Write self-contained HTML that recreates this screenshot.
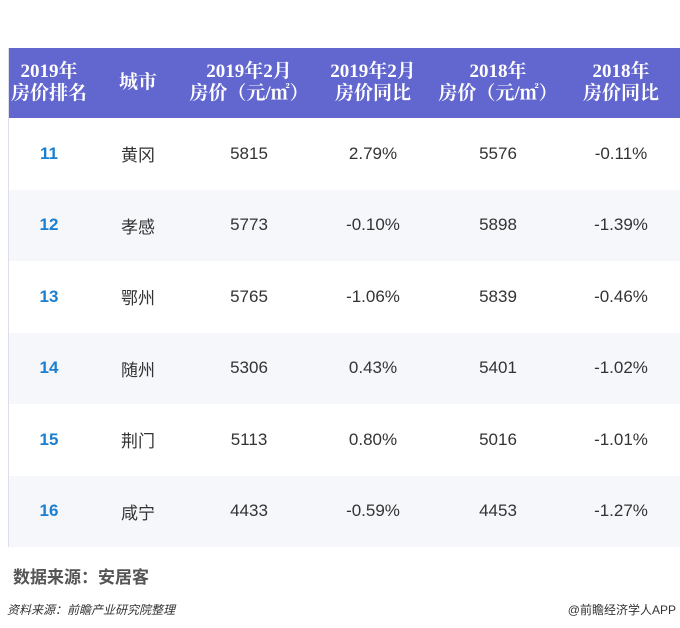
<!DOCTYPE html>
<html><head><meta charset="utf-8"><style>
body{margin:0;width:680px;height:628px;background:#fff;font-family:"Liberation Sans","Noto Sans CJK SC",sans-serif;position:relative;overflow:hidden}
.t{position:absolute;left:8px;top:48px;width:672px;border-left:1px solid #dde;}
.h{height:70px;background:#6266cf;color:#fff;font-family:"Liberation Serif","Noto Serif CJK SC",serif;font-weight:bold;font-size:19px;line-height:22px;position:relative}
.r{height:71.5px;position:relative;font-size:17px;color:#333}
.r:nth-child(odd){background:#f6f7fb}
.c{position:absolute;top:0;height:100%;display:flex;align-items:center;justify-content:center;text-align:center;transform:translateX(-50%);white-space:nowrap}
.n{color:#1a7fd0;font-weight:bold}
</style></head><body>
<div class="t">
<div class="h">
<div class="c" style="left:40px">2019年<br>房价排名</div>
<div class="c" style="left:129px">城市</div>
<div class="c" style="left:240px">2019年2月<br>房价（元/㎡）</div>
<div class="c" style="left:364px">2019年2月<br>房价同比</div>
<div class="c" style="left:489px">2018年<br>房价（元/㎡）</div>
<div class="c" style="left:612px">2018年<br>房价同比</div>
</div>
<div class="r"><div class="c n" style="left:40px">11</div><div class="c" style="left:129px">黄冈</div><div class="c" style="left:240px">5815</div><div class="c" style="left:364px">2.79%</div><div class="c" style="left:489px">5576</div><div class="c" style="left:612px">-0.11%</div></div>
<div class="r"><div class="c n" style="left:40px">12</div><div class="c" style="left:129px">孝感</div><div class="c" style="left:240px">5773</div><div class="c" style="left:364px">-0.10%</div><div class="c" style="left:489px">5898</div><div class="c" style="left:612px">-1.39%</div></div>
<div class="r"><div class="c n" style="left:40px">13</div><div class="c" style="left:129px">鄂州</div><div class="c" style="left:240px">5765</div><div class="c" style="left:364px">-1.06%</div><div class="c" style="left:489px">5839</div><div class="c" style="left:612px">-0.46%</div></div>
<div class="r"><div class="c n" style="left:40px">14</div><div class="c" style="left:129px">随州</div><div class="c" style="left:240px">5306</div><div class="c" style="left:364px">0.43%</div><div class="c" style="left:489px">5401</div><div class="c" style="left:612px">-1.02%</div></div>
<div class="r"><div class="c n" style="left:40px">15</div><div class="c" style="left:129px">荆门</div><div class="c" style="left:240px">5113</div><div class="c" style="left:364px">0.80%</div><div class="c" style="left:489px">5016</div><div class="c" style="left:612px">-1.01%</div></div>
<div class="r"><div class="c n" style="left:40px">16</div><div class="c" style="left:129px">咸宁</div><div class="c" style="left:240px">4433</div><div class="c" style="left:364px">-0.59%</div><div class="c" style="left:489px">4453</div><div class="c" style="left:612px">-1.27%</div></div>
</div>
<div style="position:absolute;left:13px;top:563px;font-size:17px;font-weight:bold;color:#555">数据来源：安居客</div>
<div style="position:absolute;left:7px;top:601px;font-size:12px;font-style:italic;color:#333">资料来源：前瞻产业研究院整理</div>
<div style="position:absolute;right:4px;top:601px;font-size:12px;color:#333">@前瞻经济学人APP</div>
</body></html>
